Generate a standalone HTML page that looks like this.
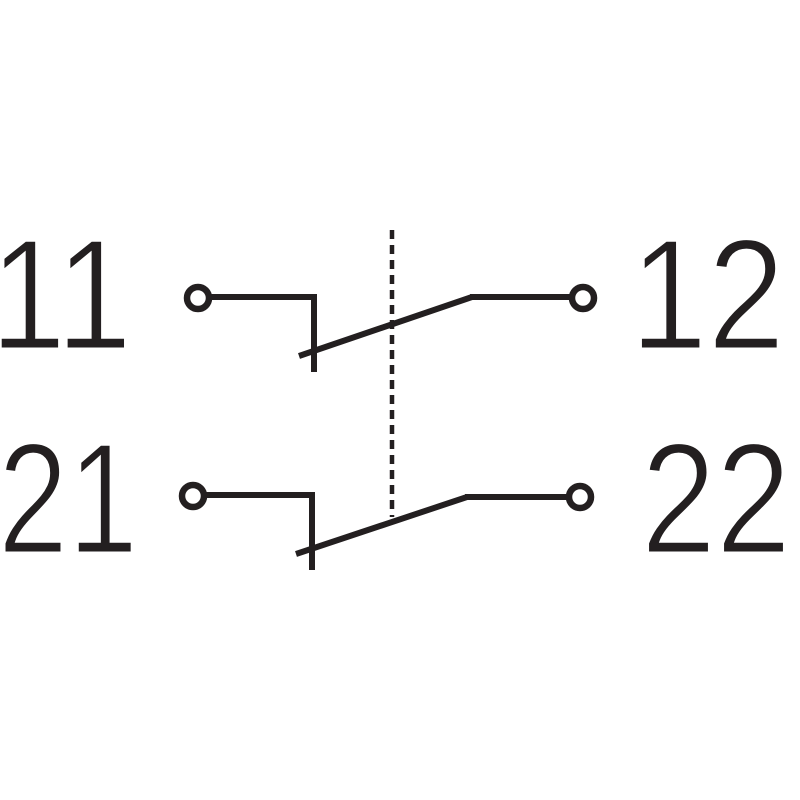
<!DOCTYPE html>
<html><head><style>html,body{margin:0;padding:0;background:#fff;}svg{display:block}
.t{font-family:"Liberation Sans","DejaVu Sans",sans-serif;font-size:158px;fill:#231f20;stroke:#fff;stroke-width:3px;}</style></head>
<body>
<svg width="800" height="800" viewBox="0 0 800 800" xmlns="http://www.w3.org/2000/svg">
<rect width="800" height="800" fill="#fff"/>
<text class="t" x="-10" y="349" textLength="142" lengthAdjust="spacingAndGlyphs">11</text>
<text class="t" x="-2" y="553" textLength="140" lengthAdjust="spacingAndGlyphs">21</text>
<text class="t" x="630" y="349" textLength="155" lengthAdjust="spacingAndGlyphs">12</text>
<text class="t" x="641" y="553" textLength="150" lengthAdjust="spacingAndGlyphs">22</text>
<g stroke="#231f20" stroke-width="6" fill="none">
<circle cx="198" cy="298" r="11" stroke-width="6.5"/>
<polyline points="209,297 314,297 314,372"/>
<line x1="299" y1="356" x2="472" y2="297"/>
<line x1="470" y1="297" x2="572" y2="297"/>
<circle cx="583" cy="298" r="11" stroke-width="6.5"/>
<circle cx="193" cy="496" r="11" stroke-width="6.5"/>
<polyline points="204,495 312,495 312,570"/>
<line x1="296" y1="554" x2="467" y2="497"/>
<line x1="465" y1="497" x2="569" y2="497"/>
<circle cx="580" cy="497" r="11" stroke-width="6.5"/>
<line x1="392" y1="230" x2="392" y2="517" stroke-width="4.5" stroke-dasharray="9,6"/>
</g>
</svg>
</body></html>
